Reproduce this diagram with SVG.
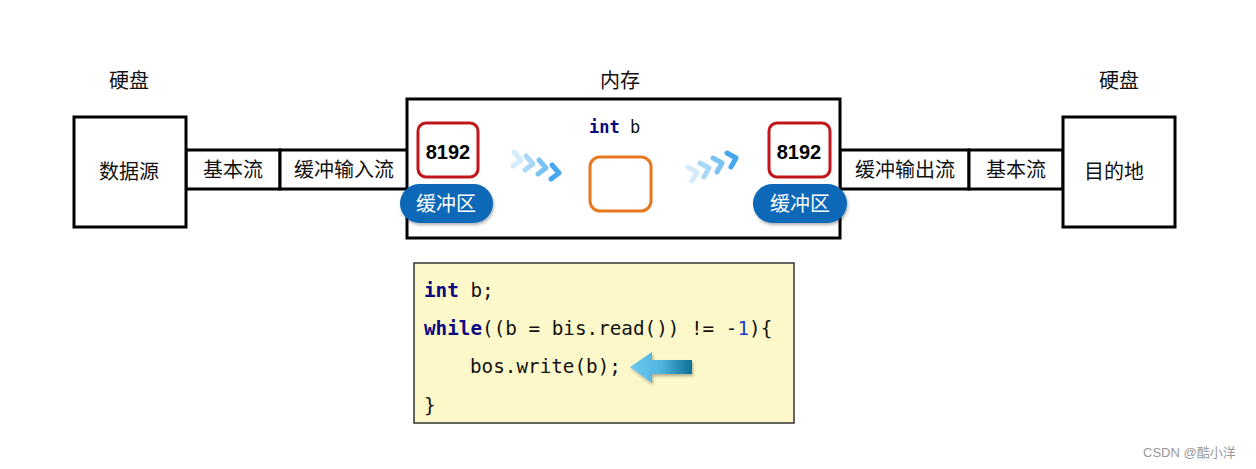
<svg xmlns="http://www.w3.org/2000/svg" width="1256" height="469" viewBox="0 0 1256 469">
<style>
.cn{font-family:"Liberation Sans","Noto Sans CJK SC",sans-serif;fill:#111;text-anchor:middle}
.box{fill:#fff;stroke:#000;stroke-width:3}
.num{fill:#fff;stroke:#c0161b;stroke-width:3}
.numt{font-family:"Liberation Sans","Noto Sans CJK SC",sans-serif;font-weight:bold;font-size:20px;fill:#000;text-anchor:middle}
.pill{fill:#0f67b8}
.pillt{font-family:"Liberation Sans","Noto Sans CJK SC",sans-serif;font-size:20px;fill:#fff;text-anchor:middle}
.code{font-family:"DejaVu Sans Mono","Liberation Mono",monospace;font-size:19.3px;fill:#111}
.kw{fill:#0a0a80;font-weight:bold}
.chev{fill:none;stroke-width:5;stroke-linecap:round;stroke-linejoin:round}
</style>
<defs>
<linearGradient id="arr" x1="0" y1="0" x2="1" y2="0">
<stop offset="0" stop-color="#6dcaf0"/>
<stop offset="0.5" stop-color="#4fb4e0"/>
<stop offset="1" stop-color="#0e6f95"/>
</linearGradient>
<filter id="sh" x="-20%" y="-20%" width="140%" height="160%">
<feDropShadow dx="1" dy="2" stdDeviation="1.5" flood-color="#000" flood-opacity="0.3"/>
</filter>
</defs>
<rect width="1256" height="469" fill="#fff"/>

<g id="labels">
<text class="cn" x="129" y="88" font-size="20">硬盘</text>
<text class="cn" x="620" y="88" font-size="20">内存</text>
<text class="cn" x="1119" y="88" font-size="20">硬盘</text>
</g>

<g id="connectors">
<rect class="box" x="186" y="150" width="94" height="39"/>
<rect class="box" x="280" y="150" width="128" height="39"/>
<rect class="box" x="840" y="150" width="129" height="39"/>
<rect class="box" x="969" y="150" width="94" height="39"/>
<text class="cn" x="233" y="177" font-size="20">基本流</text>
<text class="cn" x="344" y="177" font-size="20">缓冲输入流</text>
<text class="cn" x="905" y="177" font-size="20">缓冲输出流</text>
<text class="cn" x="1016" y="177" font-size="20">基本流</text>
</g>

<g id="source">
<rect class="box" x="74" y="117" width="112" height="110"/>
<text class="cn" x="129" y="179" font-size="20">数据源</text>
</g>

<g id="dest">
<rect class="box" x="1063" y="117" width="112" height="110"/>
<text class="cn" x="1114" y="179" font-size="20">目的地</text>
</g>

<g id="memory">
<rect class="box" x="407" y="99" width="433" height="139"/>
<text x="589" y="133" style="font-family:'DejaVu Sans Mono','Liberation Mono',monospace;font-size:17px"><tspan fill="#0a0a80" font-weight="bold">int</tspan><tspan fill="#111"> b</tspan></text>
<rect x="590" y="157" width="61" height="54" rx="10" fill="#fff" stroke="#e8781e" stroke-width="3"/>
</g>

<g id="buf-in">
<rect class="num" x="418" y="123" width="60" height="54" rx="8"/>
<text class="numt" x="448" y="159">8192</text>
<rect class="pill" x="400" y="184" width="93" height="39" rx="19.5" filter="url(#sh)"/>
<text class="pillt" x="446" y="211">缓冲区</text>
</g>

<g id="buf-out">
<rect class="num" x="769" y="123" width="61" height="54" rx="8"/>
<text class="numt" x="799" y="159">8192</text>
<rect class="pill" x="753" y="184" width="94" height="39" rx="19.5" filter="url(#sh)"/>
<text class="pillt" x="800" y="211">缓冲区</text>
</g>

<g id="chevrons-left">
<path class="chev" stroke="#d3ebfb" d="M514 152 L521 160 L513 166"/>
<path class="chev" stroke="#a9d8f8" d="M526 156 L533 164 L525 170"/>
<path class="chev" stroke="#7cc2f4" d="M539 160 L546 168 L538 174"/>
<path class="chev" stroke="#45a8ef" d="M552 165 L559 173 L551 179"/>
</g>
<g id="chevrons-right">
<path class="chev" stroke="#d3ebfb" d="M688 167 L697 172 L692 181"/>
<path class="chev" stroke="#a9d8f8" d="M700 163 L709 168 L704 177"/>
<path class="chev" stroke="#7cc2f4" d="M713 158 L722 163 L717 172"/>
<path class="chev" stroke="#45a8ef" d="M727 153 L736 158 L731 167"/>
</g>

<g id="code">
<rect x="414" y="263" width="380" height="160" fill="#fdf8c9" stroke="#333" stroke-width="1.5"/>
<text class="code" x="424" y="297"><tspan class="kw">int</tspan> b;</text>
<text class="code" x="424" y="335"><tspan class="kw">while</tspan>((b = bis.read()) != -<tspan fill="#1a3fd0">1</tspan>){</text>
<text class="code" x="470" y="373">bos.write(b);</text>
<text class="code" x="424" y="412">}</text>
<path d="M630 367 L652 352 L652 360 L692 360 L692 374 L652 374 L652 383 Z" fill="url(#arr)" filter="url(#sh)"/>
</g>

<text x="1143" y="457" style="font-family:'Liberation Sans','Noto Sans CJK SC',sans-serif;font-size:13px;fill:#999">CSDN @酷小洋</text>
</svg>
